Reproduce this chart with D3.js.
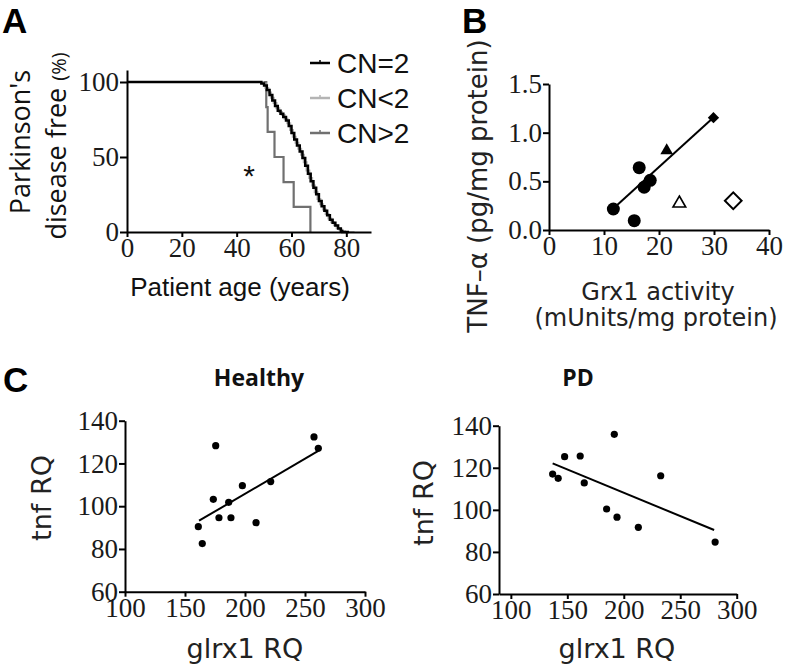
<!DOCTYPE html>
<html><head><meta charset="utf-8">
<script src="https://cdn.jsdelivr.net/npm/d3@7"></script>
<style>body{margin:0;background:#fff} svg{display:block}</style>
</head><body>
<svg id="c" width="792" height="671"></svg>
<script>
// ---------- Panel A: Kaplan-Meier (age, % disease free) ----------
const seriesNames = ["CN=2", "CN<2", "CN>2"];
const cnEqAge = [0,49,50,51,52,53,54,55,56,57,58,59,60,61,62,63,64,65,66,67,68,69,70,71,72,73,74,75,76,77,78,78.5,81];
const cnEqPct = [100,99,97.6,94.7,91.4,87.7,84,80.9,78.9,76.6,74.4,70.7,66,61.6,57.6,53.6,49.4,44.1,38.9,33.8,29.5,25.1,20.7,17.2,14.2,11.1,8.1,6.1,4.3,2.4,0.6,0,0];
const cnLtAge = [0,49.5,50.5,51.5,52.5,53.5,54.5,55.5,56.5,57.5,58.5,59.5,60.5,61.5,62.5,63.5,64.5,65.5,66.5,67.5,68.5,69.5,70.5,71.5,72.5,73.5,74.5,75.5,76.5,77.5,78.5,79.5,83];
const cnLtPct = [100,99,96,93,89.5,86,82.5,80,78,75.5,72.5,68,63.5,59.5,55.5,51.5,46.5,41,36,31,26.5,22,18.5,15,12,9,6.5,4.5,2.5,1.5,0.5,0,0];
const cnGtAge = [0,50.8,51.3,53.8,57.1,60.8,66.9];
const cnGtPct = [100,83.3,66.7,50,33.3,16.7,0];
const ageTicks = [0,20,40,60,80];
const pctTicks = [0,50,100];
const starPos = [44.5, 40];

// ---------- Panel B: Grx1 activity vs TNF-alpha ----------
const bCircleX = [11.7, 15.5, 16.4, 17.3, 18.4];
const bCircleY = [0.216, 0.096, 0.64, 0.44, 0.51];
const bTriFilled = [21.4, 0.815];
const bDiaFilled = [29.9, 1.154];
const bTriOpen = [23.7, 0.274];
const bDiaOpen = [33.5, 0.30];
const bFitX = [11.7, 29.9];
const bFitY = [0.22, 1.155];
const bXTicks = [0,10,20,30,40];
const bYTicks = [0,0.5,1.0,1.5];

// ---------- Panel C: glrx1 RQ vs tnf RQ ----------
const healthyX = [161.1,164.4,175.6,173.6,178.3,186.4,188.3,197.8,209.2,221.4,257.5,261.1];
const healthyY = [90.4,82.5,128.3,103.2,94.6,101.8,94.6,109.6,92.3,111.5,132.4,127.1];
const healthyFitX = [161.7, 262.5];
const healthyFitY = [93.2, 126.3];
const pdX = [137,141.9,147.6,161.4,165.0,191.6,184.8,194,212.9,232.7,280.9];
const pdY = [117.0,115.0,125.3,125.6,112.8,135.9,100.4,96.5,91.7,116.2,84.7];
const pdFitX = [137, 280];
const pdFitY = [122.1, 90.4];
const cXTicks = [100,150,200,250,300];
const cYTicks = [60,80,100,120,140];

const svg = d3.select('#c');
const FONTS = {
  tk: '"Liberation Serif"',
  sa: '"Liberation Sans"',
  dj: '"DejaVu Sans"',
  os: '"Open Sans"'
};

function styleAxis(g){
  g.attr('font-family',null).attr('font-size',null);
  g.selectAll('path,line').attr('stroke','#000').attr('stroke-width',2);
  g.selectAll('text').style('font-family',FONTS.tk).style('font-size','27px').attr('fill','#1a1a1a');
}
function fmt1(d){ return d3.format('.1f')(d); }
function txt(g, f, size, t){
  return g.append('text').style('font-family',FONTS[f]).style('font-size',size+'px').attr('fill','#111').text(t);
}

// Panel letters
[["A",2,33],["B",462,33],["C",3,392]].forEach(([t,x,y])=>{
  txt(svg,'sa',35,t).attr('x',x).attr('y',y).attr('font-weight','bold').attr('fill','#000');
});

// ===== Panel A =====
const xA = d3.scaleLinear([0,89],[127,371]);
const yA = d3.scaleLinear([0,108],[232,70]);
const gA = svg.append('g');
const lineA = d3.line().curve(d3.curveStepAfter).x(d=>xA(d[0])).y(d=>yA(d[1]));
const colors = {"CN=2":"#000","CN<2":"#b4b4b4","CN>2":"#707070"};
const kmData = {
  "CN>2": d3.zip(cnGtAge, cnGtPct),
  "CN<2": d3.zip(cnLtAge, cnLtPct),
  "CN=2": d3.zip(cnEqAge, cnEqPct)
};
["CN>2","CN<2","CN=2"].forEach(k=>{
  gA.append('path').datum(kmData[k]).attr('d',lineA).attr('fill','none')
    .attr('stroke',colors[k]).attr('stroke-width', k==="CN=2"?2.5:2.2);
});
gA.append('g').attr('transform',`translate(0,${yA(0)})`)
  .call(d3.axisBottom(xA).tickValues(ageTicks).tickSize(5).tickSizeOuter(0).tickPadding(1)).call(styleAxis);
gA.append('g').attr('transform',`translate(${xA(0)},0)`)
  .call(d3.axisLeft(yA).tickValues(pctTicks).tickSize(7).tickSizeOuter(0).tickPadding(1)).call(styleAxis);
txt(gA,'sa',30,'*').attr('x',xA(starPos[0])).attr('y',yA(starPos[1])+14).attr('text-anchor','middle');
txt(gA,'sa',26,'Patient age (years)').attr('x',240).attr('y',296).attr('text-anchor','middle');
txt(gA,'os',27,"Parkinson's").attr('transform','translate(30,142) rotate(-90)').attr('text-anchor','middle');
const dl = txt(gA,'os',27,'').attr('transform','translate(66,146) rotate(-90)').attr('text-anchor','middle');
dl.append('tspan').text('disease free ');
dl.append('tspan').style('font-size','20px').text('(%)');
// legend
const legY = [63, 98, 133];
seriesNames.forEach((k,i)=>{
  const y = legY[i];
  gA.append('line').attr('x1',310).attr('x2',330).attr('y1',y).attr('y2',y)
    .attr('stroke',colors[k]).attr('stroke-width',2.5);
  gA.append('line').attr('x1',320).attr('x2',320).attr('y1',y-3).attr('y2',y)
    .attr('stroke',colors[k]).attr('stroke-width',1.5);
  txt(gA,'sa',28,k).attr('x',337).attr('y',y+10);
});

// ===== Panel B =====
const xB = d3.scaleLinear([0,40],[549,769]);
const yB = d3.scaleLinear([0,1.5],[230,84]);
const gB = svg.append('g');
gB.append('g').attr('transform',`translate(0,${yB(0)})`)
  .call(d3.axisBottom(xB).tickValues(bXTicks).tickSize(5).tickSizeOuter(0).tickPadding(1)).call(styleAxis);
gB.append('g').attr('transform',`translate(${xB(0)},0)`)
  .call(d3.axisLeft(yB).tickValues(bYTicks).tickFormat(fmt1).tickSize(6).tickSizeOuter(0).tickPadding(1)).call(styleAxis);
gB.append('line').attr('x1',xB(bFitX[0])).attr('y1',yB(bFitY[0])).attr('x2',xB(bFitX[1])).attr('y2',yB(bFitY[1]))
  .attr('stroke','#000').attr('stroke-width',2);
gB.selectAll('circle.b').data(d3.zip(bCircleX,bCircleY)).join('circle')
  .attr('cx',d=>xB(d[0])).attr('cy',d=>yB(d[1])).attr('r',6.5).attr('fill','#000');
const sym = (type,size)=>d3.symbol().type(type).size(size)();
gB.append('path').attr('d',sym(d3.symbolTriangle,70)).attr('transform',`translate(${xB(bTriFilled[0])},${yB(bTriFilled[1])})`).attr('fill','#000');
gB.append('path').attr('d',sym(d3.symbolSquare,64)).attr('transform',`translate(${xB(bDiaFilled[0])},${yB(bDiaFilled[1])}) rotate(45)`).attr('fill','#000');
gB.append('path').attr('d',sym(d3.symbolTriangle,70)).attr('transform',`translate(${xB(bTriOpen[0])},${yB(bTriOpen[1])})`).attr('fill','none').attr('stroke','#000').attr('stroke-width',1.6);
gB.append('path').attr('d',sym(d3.symbolSquare,140)).attr('transform',`translate(${xB(bDiaOpen[0])},${yB(bDiaOpen[1])}) rotate(45)`).attr('fill','none').attr('stroke','#000').attr('stroke-width',2);
txt(gB,'dj',26,'TNF\u2013\u03b1 (pg/mg protein)').attr('transform','translate(487,186) rotate(-90)').attr('text-anchor','middle').attr('fill','#222');
txt(gB,'dj',24,'Grx1 activity').attr('x',658).attr('y',300).attr('text-anchor','middle').attr('fill','#222');
txt(gB,'dj',24,'(mUnits/mg protein)').attr('x',656).attr('y',326).attr('text-anchor','middle').attr('fill','#222');

// ===== Panel C =====
function scatterPanel(cfg){
  const x = d3.scaleLinear(cfg.xd, cfg.xr);
  const y = d3.scaleLinear([60,140], cfg.yr);
  const g = svg.append('g');
  g.append('g').attr('transform',`translate(0,${cfg.yr[0]})`)
    .call(d3.axisBottom(x).tickValues(cXTicks).tickSize(5).tickSizeOuter(0).tickPadding(1)).call(styleAxis);
  g.append('g').attr('transform',`translate(${cfg.xr[0]},0)`)
    .call(d3.axisLeft(y).tickValues(cYTicks).tickSize(6).tickSizeOuter(0).tickPadding(1)).call(styleAxis);
  g.append('line').attr('x1',x(cfg.fx[0])).attr('y1',y(cfg.fy[0])).attr('x2',x(cfg.fx[1])).attr('y2',y(cfg.fy[1]))
    .attr('stroke','#000').attr('stroke-width',2);
  g.selectAll('circle').data(d3.zip(cfg.px,cfg.py)).join('circle')
    .attr('cx',d=>x(d[0])).attr('cy',d=>y(d[1])).attr('r',3.6).attr('fill','#000');
  txt(g,'os',23,cfg.title).attr('x',cfg.titleX).attr('y',386).attr('text-anchor','middle').attr('font-weight','bold');
  txt(g,'dj',27,'glrx1 RQ').attr('x',cfg.xlabX).attr('y',658).attr('text-anchor','middle').attr('fill','#222');
  txt(g,'dj',27,'tnf RQ').attr('transform',`translate(${cfg.ylabX},${cfg.ylabY}) rotate(-90)`).attr('text-anchor','middle').attr('fill','#222');
}
scatterPanel({xd:[100,300], xr:[125,365], yr:[591.7,420.7], px:healthyX, py:healthyY,
  fx:healthyFitX, fy:healthyFitY, title:'Healthy', titleX:259, xlabX:245, ylabX:51, ylabY:498});
scatterPanel({xd:[89.5,300], xr:[499,736.7], yr:[594,425.7], px:pdX, py:pdY,
  fx:pdFitX, fy:pdFitY, title:'PD', titleX:578, xlabX:617, ylabX:433, ylabY:503});
</script>
</body></html>
